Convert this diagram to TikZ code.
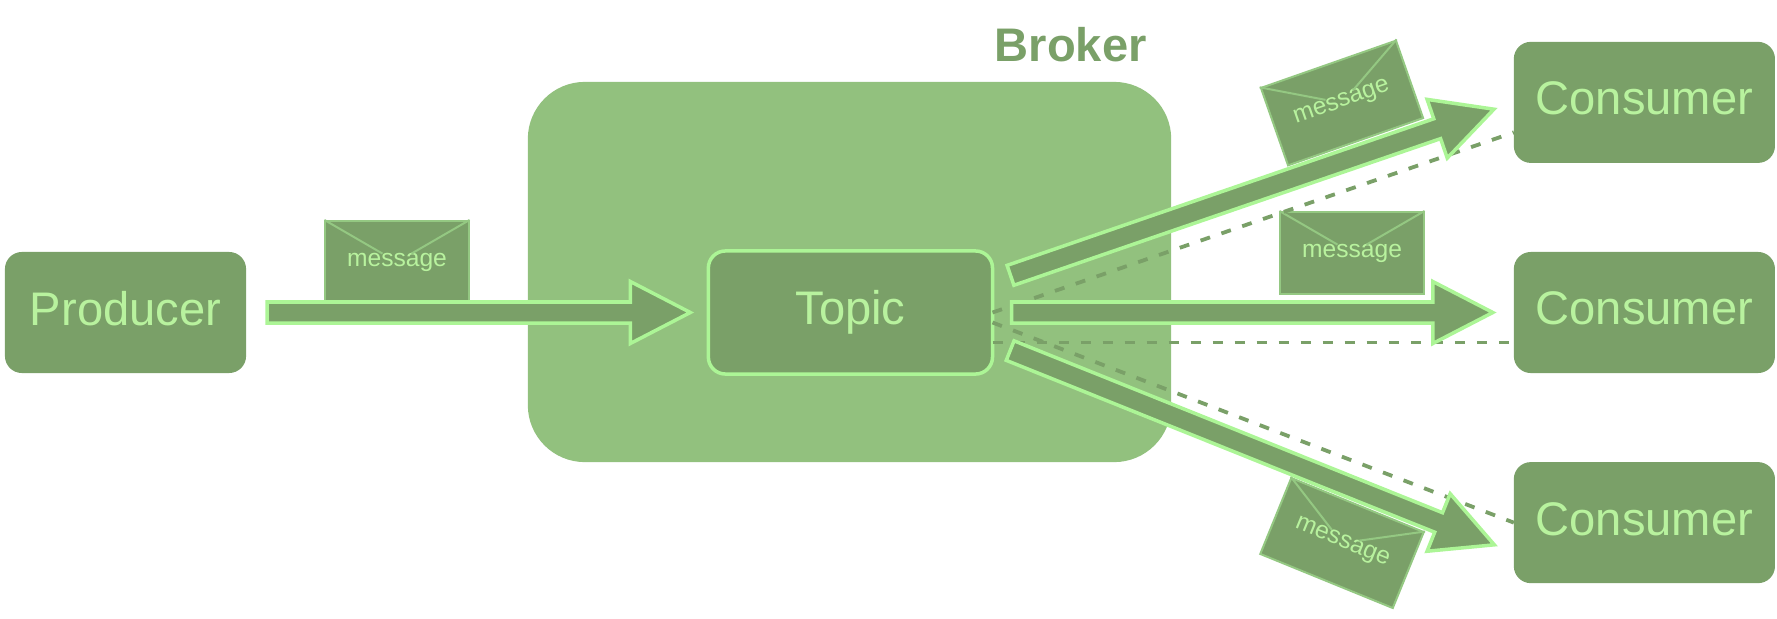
\documentclass[tikz,border=0pt]{standalone}
\usepackage{fontspec}
\setmainfont{Liberation Sans}
\usetikzlibrary{calc}
\usetikzlibrary{positioning,shapes,arrows,arrows.meta}
\definecolor{brokergreen}{RGB}{146,193,126}
\definecolor{darkgreen}{RGB}{122,160,104}
\definecolor{edgegreen}{RGB}{172,245,150}
\definecolor{textgreen}{RGB}{184,242,158}
\definecolor{flapgreen}{RGB}{148,200,130}
\tikzstyle{box} = [rectangle, rounded corners=1.7mm, text centered, fill=darkgreen, text=textgreen, outer sep=0pt, font=\fontsize{13.4}{16}\selectfont]
\tikzstyle{client} = [box, minimum height=1.21cm, text depth=0.08cm]
\tikzstyle{consumer} = [client, minimum width=2.61cm]
\tikzstyle{envelope} = [rectangle, draw=flapgreen, fill=darkgreen, text=textgreen, line width=0.2mm, minimum width=1.43cm, minimum height=0.82cm, inner sep=0pt, font=\fontsize{7}{8}\selectfont]
\tikzstyle{flap} = [draw=flapgreen, line width=0.2mm]
\tikzstyle{dashline} = [darkgreen, line width=0.38mm, dash pattern=on 1mm off 1.2mm]
\tikzstyle{blockarrow} = [draw=edgegreen, fill=darkgreen, line width=0.35mm, to path={
	let \p1=($(\tikztostart)!1.9mm!(\tikztotarget)$),
	\p2=($(\tikztotarget)!2.1mm!(\tikztostart)$),
	\p3=($(\p2)!6mm!(\p1)$) in
	($(\p1)!1.05mm!90:(\p2)$) -- ($(\p3)!1.05mm!90:(\p2)$) -- ($(\p3)!3.1mm!90:(\p2)$) -- (\p2)
	-- ($(\p3)!3.1mm!-90:(\p2)$) -- ($(\p3)!1.05mm!-90:(\p2)$) -- ($(\p1)!1.05mm!-90:(\p2)$) -- cycle}]
\newcommand{\envflap}[1]{%
	\draw [flap] (#1.north west) -- ($(#1.north west)!0.4!(#1.south east)$);
	\draw [flap] (#1.north east) -- ($(#1.north east)!0.4!(#1.south west)$);}

\begin{document}
\begin{tikzpicture}[x=0.01cm,y=-0.01cm]
	\useasboundingbox (0,0) rectangle (1777,618);

	\node (broker) [box,minimum width=6.43cm,minimum height=3.8cm,rounded corners=5.7mm,fill=brokergreen] at (849.5,272) {};
	\node (broker-label) [above=0.08cm of broker,xshift=2.21cm,text=darkgreen,font=\fontsize{13.4}{16}\selectfont\bfseries] {Broker};

	\node (producer) [client,minimum width=2.41cm] at (125.5,312.5) {Producer};
	\node (topic) [box,draw=edgegreen,line width=0.35mm,minimum width=2.84cm,minimum height=1.23cm,right=4.62cm of producer] {Topic};
	\node (consumer-mid) [consumer,right=5.21cm of topic] {Consumer};
	\node (consumer-top) [consumer,above=0.89cm of consumer-mid] {Consumer};
	\node (consumer-low) [consumer,below=0.89cm of consumer-mid] {Consumer};

	\node (msg-in) [envelope] at (397,262) {message};
	\node (msg-top) [envelope,rotate=19.3] at (1342,103) {message};
	\node (msg-mid) [envelope] at (1352,253) {message};
	\node (msg-low) [envelope,rotate=-22.2] at (1342,543) {message};
	\envflap{msg-in}
	\envflap{msg-top}
	\envflap{msg-mid}
	\envflap{msg-low}

	\draw [dashline] (topic.east) -- ($(consumer-top.west)+(0,30)$);
	\draw [dashline] ($(topic.east)+(0,30)$) -- ($(consumer-mid.west)+(0,30)$);
	\draw [dashline] ($(topic.east)+(0,10)$) -- (consumer-low.west);

	\draw [blockarrow] ($(producer.east)+(2,0)$) to ($(topic.west)+(3,0)$);
	\draw [blockarrow] ($(topic.east)+(0,-31)$) to (consumer-top.west);
	\draw [blockarrow] (topic.east) to (consumer-mid.west);
	\draw [blockarrow] ($(topic.east)+(0,31)$) to ($(consumer-low.west)+(0,30)$);
\end{tikzpicture}
\end{document}
